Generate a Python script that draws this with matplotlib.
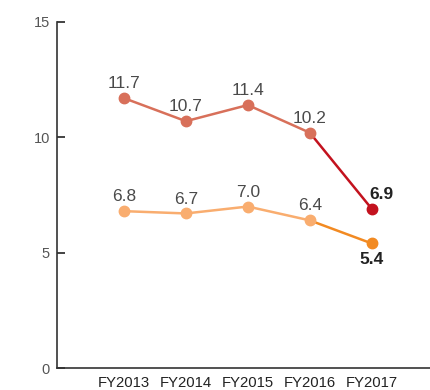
import numpy as np
import matplotlib.pyplot as plt

plt.rcParams['font.family'] = ['Liberation Sans', 'DejaVu Sans']

years = ['FY2013', 'FY2014', 'FY2015', 'FY2016', 'FY2017']
upper = [11.7, 10.7, 11.4, 10.2, 6.9]
lower = [6.8, 6.7, 7.0, 6.4, 5.4]

col_up, col_up_last = '#D8705A', '#C3121E'
col_lo, col_lo_last = '#F9AD6F', '#F28A22'

fig = plt.figure(figsize=(4.30, 3.90), dpi=100)
ax = fig.add_axes([0.1326, 0.0564, 0.8674, 0.8872])

x = np.arange(len(years))
for vals, c, c_last in [(upper, col_up, col_up_last), (lower, col_lo, col_lo_last)]:
    ax.plot(x[:-1], vals[:-1], color=c, lw=1.8, marker='o', ms=7.5, zorder=3)
    ax.plot(x[-2:], vals[-2:], color=c_last, lw=1.8, zorder=2)
    ax.plot(x[-1], vals[-1], 'o', color=c_last, ms=7.5, zorder=3)
    for xi, v in zip(x[:-1], vals[:-1]):
        ax.annotate(f'{v:.1f}', (xi, v), xytext=(0, 5), textcoords='offset points',
                    ha='center', va='bottom', fontsize=12.5, color='#4a4a4a')

ax.annotate(f'{upper[-1]:.1f}', (x[-1], upper[-1]), xytext=(7, 5), textcoords='offset points',
            ha='center', va='bottom', fontsize=12.5, fontweight='bold', color='#222222')
ax.annotate(f'{lower[-1]:.1f}', (x[-1], lower[-1]), xytext=(0, -6), textcoords='offset points',
            ha='center', va='top', fontsize=12.5, fontweight='bold', color='#222222')

ax.set_xlim(-1.08, 4.94)
ax.set_ylim(0, 15)
ax.set_yticks([0, 5, 10, 15])
ax.set_xticks(x)
ax.set_xticklabels(years, fontsize=10.7, color='#222222')
ax.tick_params(axis='x', length=0, pad=6)
ax.tick_params(axis='y', direction='in', length=6, width=1.2, colors='#222222',
               labelcolor='#555555', labelsize=10.5, pad=5)
for s in ['top', 'right']:
    ax.spines[s].set_visible(False)
for s in ['left', 'bottom']:
    ax.spines[s].set_color('#333333')
    ax.spines[s].set_linewidth(1.2)

fig.savefig('out.png', dpi=100)
